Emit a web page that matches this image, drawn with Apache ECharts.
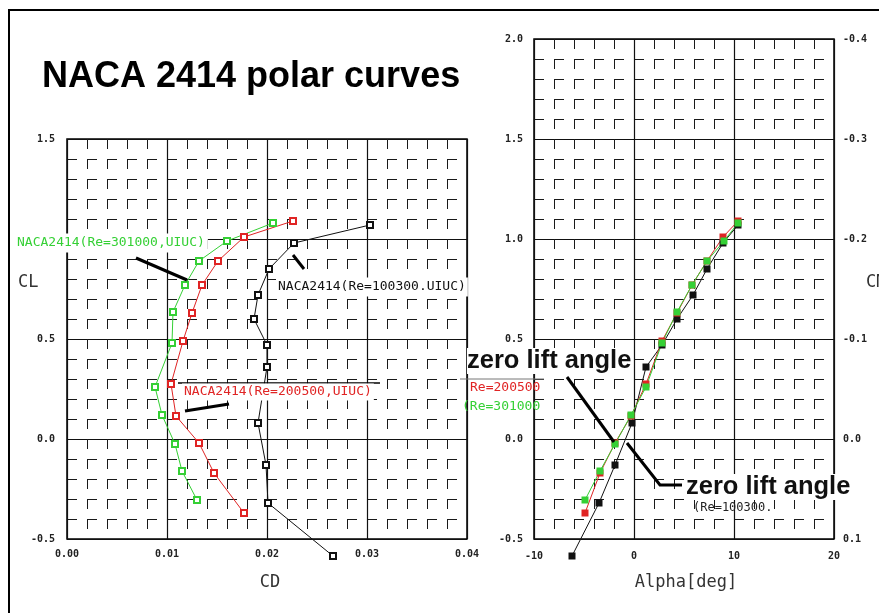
<!DOCTYPE html>
<html>
<head>
<meta charset="utf-8">
<script src="https://cdn.jsdelivr.net/npm/echarts@6/dist/echarts.min.js"></script>
<style>
  html, body { margin: 0; padding: 0; background: #fff; }
  #chart { width: 879px; height: 613px; }
</style>
</head>
<body>
<div id="chart"></div>
<script>
// NACA 2414, UIUC wind tunnel data (ascending alpha)
const alphaRe100300 = [-6.2, -3.5, -1.9, -0.2, 1.2, 2.8, 4.3, 5.9, 7.3, 8.9, 10.4]
const clRe100300 = [-0.585, -0.32, -0.13, 0.08, 0.36, 0.47, 0.60, 0.72, 0.85, 0.98, 1.07]
const cdRe100300 = [0.0266, 0.0201, 0.0199, 0.0191, 0.0200, 0.0200, 0.0187, 0.0191, 0.0202, 0.0227, 0.0303]

const alphaRe200500 = [-4.9, -3.4, -1.9, -0.3, 1.2, 2.8, 4.3, 5.8, 7.3, 8.9, 10.4]
const clRe200500 = [-0.37, -0.17, -0.02, 0.115, 0.275, 0.49, 0.63, 0.77, 0.89, 1.01, 1.09]
const cdRe200500 = [0.0177, 0.0147, 0.0132, 0.0109, 0.0104, 0.0116, 0.0125, 0.0135, 0.0151, 0.0177, 0.0226]

const alphaRe301000 = [-4.9, -3.4, -1.9, -0.3, 1.2, 2.8, 4.3, 5.8, 7.3, 9.0, 10.4]
const clRe301000 = [-0.305, -0.16, -0.025, 0.12, 0.26, 0.48, 0.635, 0.77, 0.89, 0.99, 1.08]
const cdRe301000 = [0.0130, 0.0115, 0.0108, 0.0095, 0.0088, 0.0105, 0.0106, 0.0118, 0.0132, 0.0160, 0.0206]

// tick labels
const cdTicks = ['0.00', '0.01', '0.02', '0.03', '0.04']
const clTicksLeft = ['-0.5', '0.0', '0.5', '1.0', '1.5']
const alphaTicks = ['-10', '0', '10', '20']
const clTicksRight = ['-0.5', '0.0', '0.5', '1.0', '1.5', '2.0']
const cmTicks = ['-0.4', '-0.3', '-0.2', '-0.1', '0.0', '0.1']

const BLACK = '#111'
const RED = '#e02424'
const GREEN = '#35d035'
const mono = '"DejaVu Sans Mono", monospace'
const sans = '"Liberation Sans", Arial, sans-serif'

const chart = echarts.init(document.getElementById('chart'))

function pairs(xs, ys) {
  return xs.map((x, i) => [x, ys[i]])
}

function pickTick(ticks, v, digits) {
  const s = v.toFixed(digits)
  return ticks.indexOf(s) >= 0 ? s : ''
}

const tickFont = { fontFamily: mono, fontSize: 10, fontWeight: 'bold', color: '#222' }
const major = { show: true, lineStyle: { color: '#111', width: 1.2 } }
const minor = { show: true, lineStyle: { color: '#1a1a1a', width: 1, type: [10, 10], dashOffset: 0 } }

function valueAxis(extra) {
  return Object.assign({
    type: 'value',
    axisLine: { show: false },
    axisTick: { show: false },
    splitLine: major,
    minorTick: { show: false, splitNumber: 5 },
    minorSplitLine: minor
  }, extra)
}

function polarSeries(name, xs, ys, color) {
  return {
    name, type: 'line', xAxisIndex: 0, yAxisIndex: 0,
    data: pairs(xs, ys),
    symbol: 'emptyRect', symbolSize: 6, clip: false,
    itemStyle: { color, borderWidth: 1 },
    lineStyle: { color, width: 1 },
    z: 3
  }
}

function liftSeries(name, xs, ys, color) {
  return {
    name, type: 'line', xAxisIndex: 1, yAxisIndex: 1,
    data: pairs(xs, ys),
    symbol: 'rect', symbolSize: 7, clip: false,
    itemStyle: { color },
    lineStyle: { color, width: 1 },
    z: 3
  }
}

function text(str, x, y, font, fill, extra) {
  return {
    type: 'text', z: 50,
    style: Object.assign({ text: str, x, y, font, fill, verticalAlign: 'middle' }, extra || {})
  }
}

function stroke(points, width, color) {
  return {
    type: 'polyline', z: 49,
    shape: { points },
    style: { stroke: color || '#000', lineWidth: width, fill: null }
  }
}

const option = {
  backgroundColor: '#fff',
  animation: false,
  grid: [
    { left: 67, top: 139, width: 400, height: 400, show: true, borderColor: '#000', borderWidth: 1.5, backgroundColor: 'transparent' },
    { left: 534, top: 39, width: 300, height: 500, show: true, borderColor: '#000', borderWidth: 1.5, backgroundColor: 'transparent' }
  ],
  xAxis: [
    valueAxis({ gridIndex: 0, min: 0, max: 0.04, interval: 0.01,
      axisLabel: Object.assign({ margin: 10, formatter: v => pickTick(cdTicks, v, 2) }, tickFont) }),
    valueAxis({ gridIndex: 1, min: -10, max: 20, interval: 10,
      axisLabel: Object.assign({ margin: 12, formatter: v => pickTick(alphaTicks, v, 0) }, tickFont) })
  ],
  yAxis: [
    valueAxis({ gridIndex: 0, min: -0.5, max: 1.5, interval: 0.5,
      axisLabel: Object.assign({ margin: 12, formatter: v => pickTick(clTicksLeft, v, 1) }, tickFont) }),
    valueAxis({ gridIndex: 1, min: -0.5, max: 2.0, interval: 0.5,
      axisLabel: Object.assign({ margin: 11, formatter: v => pickTick(clTicksRight, v, 1) }, tickFont) }),
    {
      type: 'value', gridIndex: 1, position: 'right', inverse: true,
      min: -0.4, max: 0.1, interval: 0.1,
      axisLine: { show: false }, axisTick: { show: false }, splitLine: { show: false },
      axisLabel: Object.assign({ margin: 9, formatter: v => pickTick(cmTicks, v, 1) }, tickFont)
    }
  ],
  series: [
    polarSeries('Re=100300', cdRe100300, clRe100300, BLACK),
    polarSeries('Re=200500', cdRe200500, clRe200500, RED),
    polarSeries('Re=301000', cdRe301000, clRe301000, GREEN),
    liftSeries('Re=100300', alphaRe100300, clRe100300, BLACK),
    liftSeries('Re=200500', alphaRe200500, clRe200500, RED),
    liftSeries('Re=301000', alphaRe301000, clRe301000, GREEN)
  ],
  graphic: [
    // outer frame
    stroke([[9, 613], [9, 10], [879, 10]], 2),
    // title and axis names
    text('NACA 2414 polar curves', 42, 77, 'bold 36px ' + sans, '#000'),
    text('CL', 18, 283, '17px ' + mono, '#333'),
    text('CD', 270, 583, '17px ' + mono, '#333', { align: 'center' }),
    text('Alpha[deg]', 686, 583, '17px ' + mono, '#333', { align: 'center' }),
    text('CM', 866, 283, '17px ' + mono, '#333'),
    // curve labels in the polar plot
    text('NACA2414(Re=301000,UIUC)', 14, 243, '13px ' + mono, GREEN, { backgroundColor: '#fff', padding: [3, 3] }),
    stroke([[136, 258], [187, 280]], 3),
    text('NACA2414(Re=100300.UIUC)', 276, 287, '13px ' + mono, BLACK, { backgroundColor: '#fff', padding: [3, 2] }),
    stroke([[293, 255], [304, 269]], 3),
    stroke([[178, 383], [380, 383]], 1.5),
    text('NACA2414(Re=200500,UIUC)', 182, 392, '13px ' + mono, RED, { backgroundColor: '#fff', padding: [2, 2] }),
    stroke([[185, 411], [229, 404]], 3),
    // zero lift angle notes
    text('zero lift angle', 467, 361, 'bold 25.5px ' + sans, '#111', { backgroundColor: '#fff' }),
    stroke([[460, 379], [544, 379]], 1, '#777'),
    text('Re=200500', 470, 388, '13px ' + mono, RED),
    text('(Re=301000', 462, 407, '13px ' + mono, GREEN),
    stroke([[567, 377], [614, 442]], 3),
    text('zero lift angle', 686, 487, 'bold 25.5px ' + sans, '#111', { backgroundColor: '#fff' }),
    stroke([[627, 443], [660, 485], [682, 485]], 3),
    text('(Re=100300.', 693, 508, '12px ' + mono, '#222')
  ]
}

chart.setOption(option)
</script>
</body>
</html>
